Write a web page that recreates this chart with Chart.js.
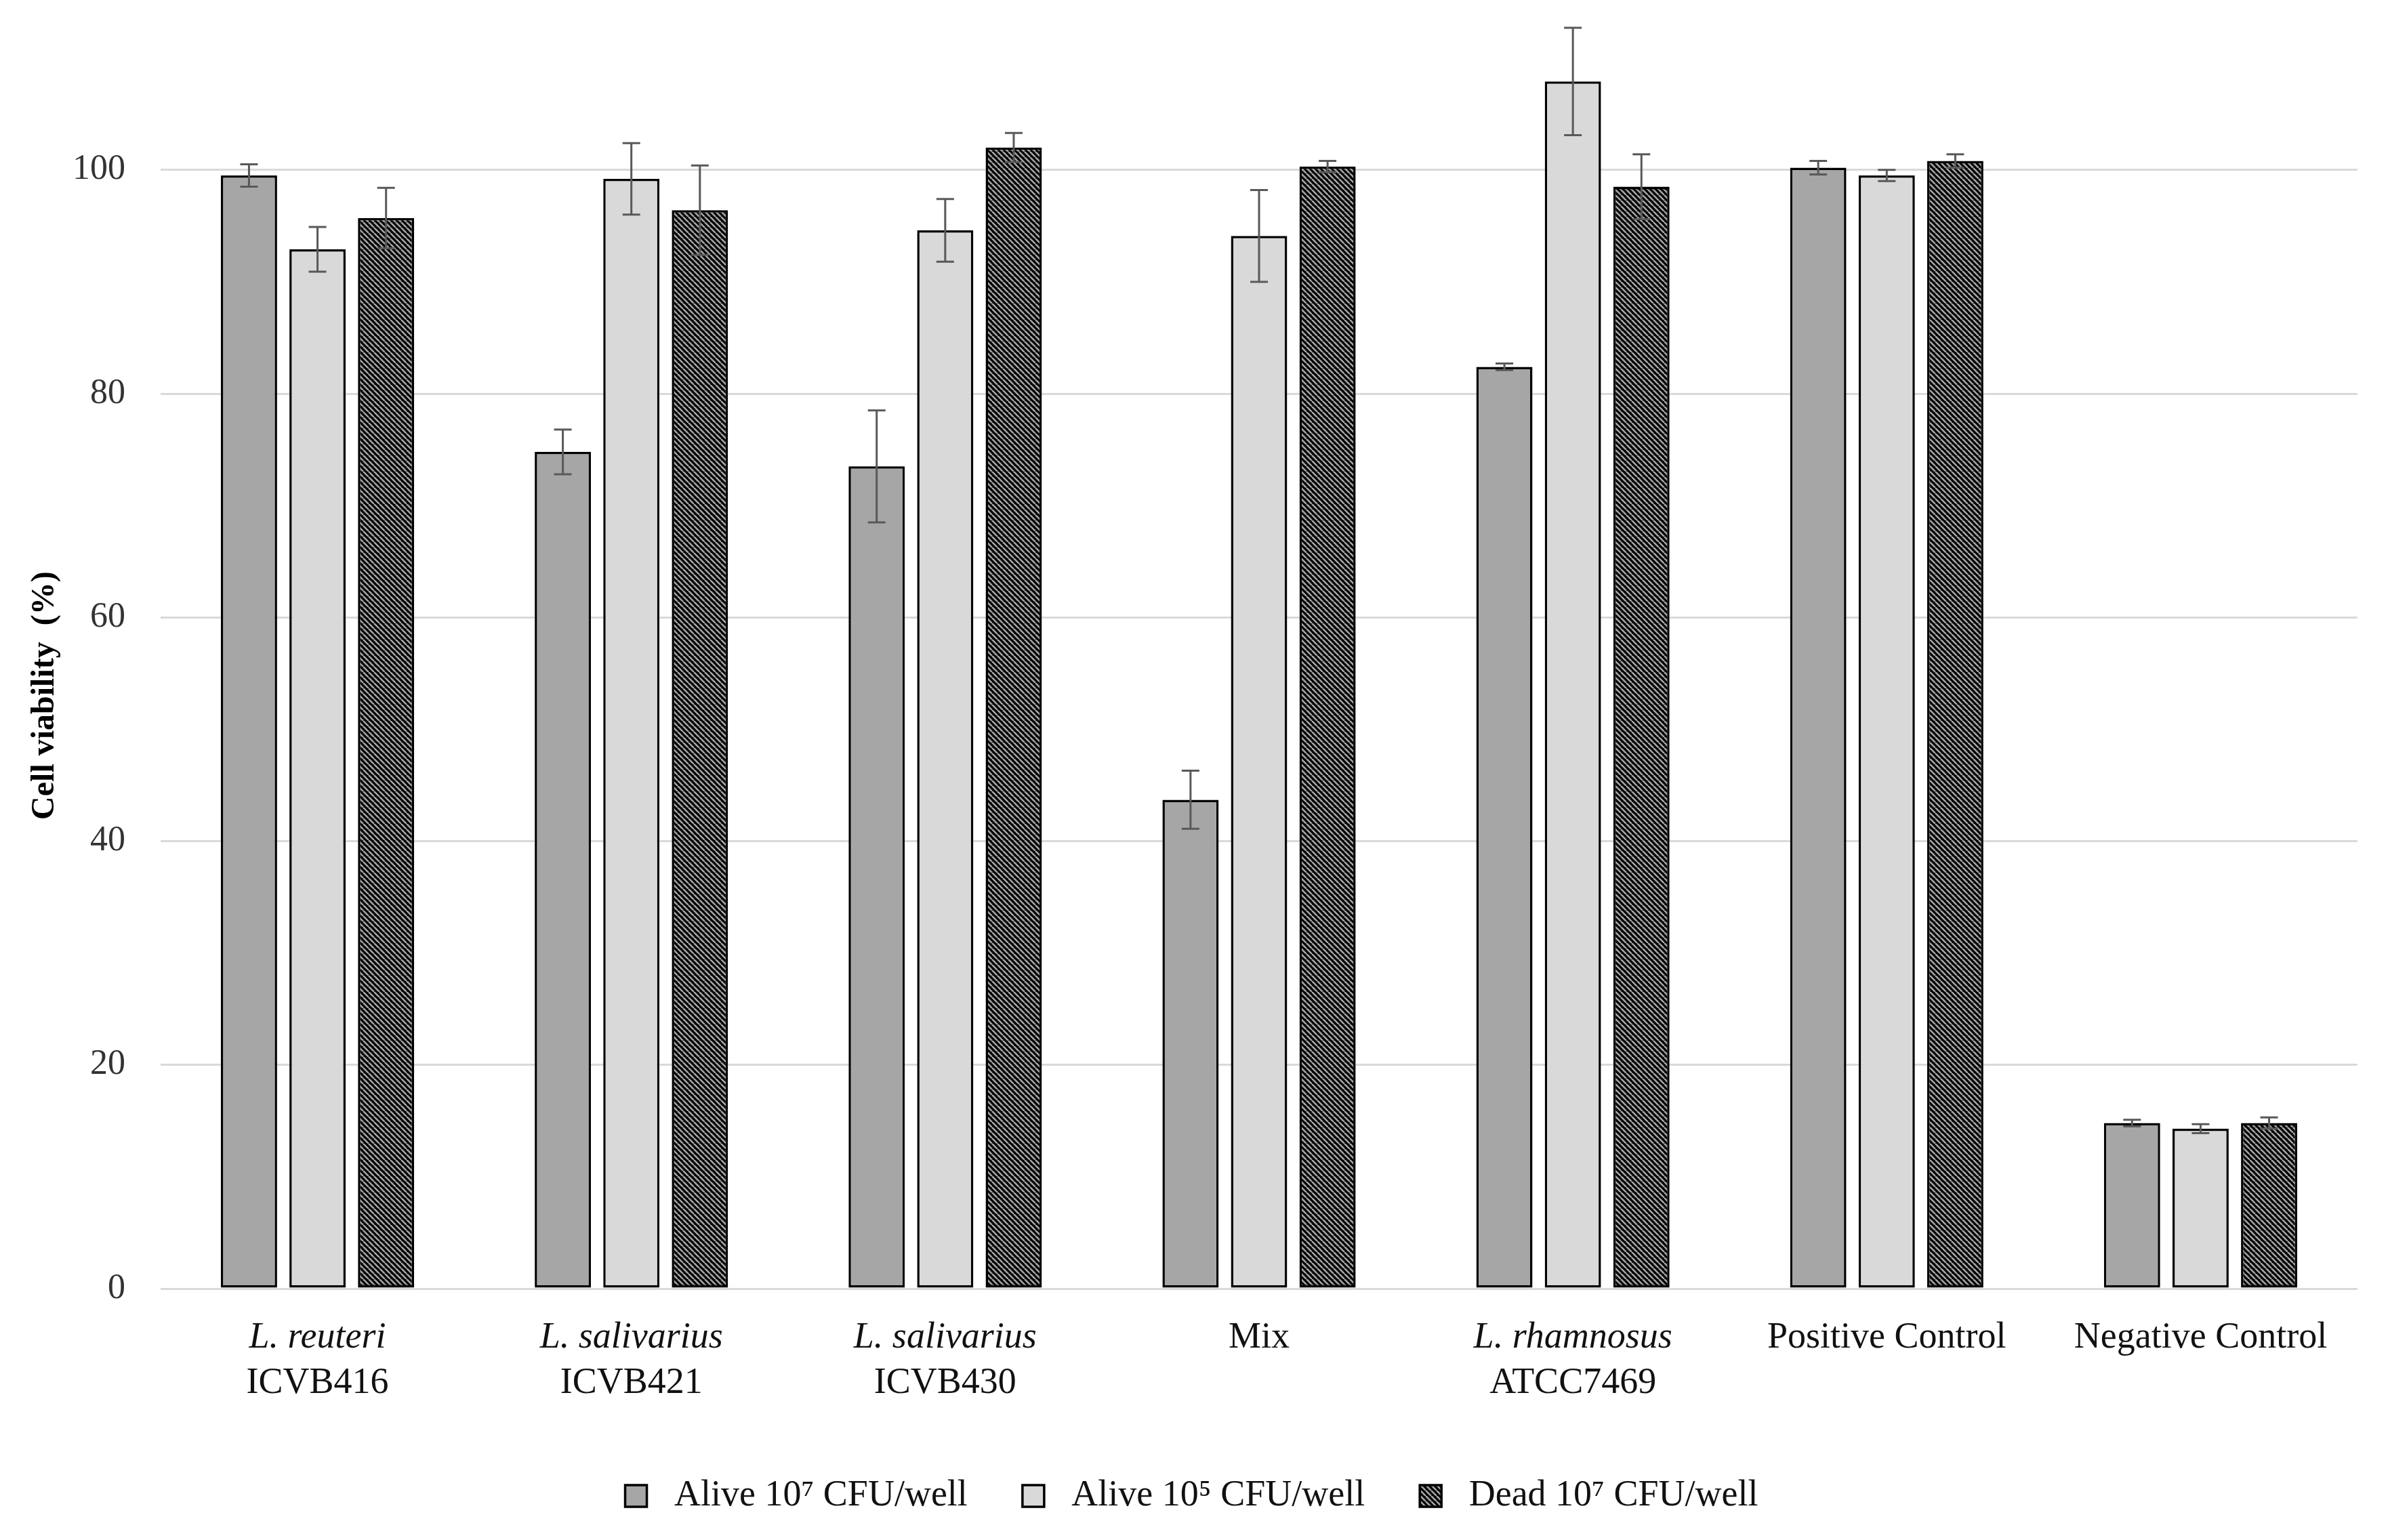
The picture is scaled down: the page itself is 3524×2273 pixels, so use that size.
<!DOCTYPE html>
<html>
<head>
<meta charset="utf-8">
<script src="https://cdn.jsdelivr.net/npm/chart.js@4.4.1/dist/chart.umd.min.js"></script>
<style>
html, body { margin: 0; padding: 0; background: #fff; }
#wrap { width: 3524px; height: 2273px; position: relative; }
</style>
</head>
<body>
<div id="wrap"><canvas id="viabilityChart"></canvas></div>
<script>
// categories (two label lines) and which ones are species names (italic)
const groupNames = ['L. reuteri', 'L. salivarius', 'L. salivarius', 'Mix', 'L. rhamnosus', 'Positive Control', 'Negative Control'];
const groupStrains = ['ICVB416', 'ICVB421', 'ICVB430', '', 'ATCC7469', '', ''];
const italicGroups = [0, 1, 2, 4];

const seriesNames = ['Alive 10\u2077 CFU/well', 'Alive 10\u2075 CFU/well', 'Dead 10\u2077 CFU/well'];

// cell viability (%) and error bars
const alive7 = [99.5, 74.8, 73.5, 43.7, 82.4, 100.2, 14.8];
const alive7Err = [1.0, 2.0, 5.0, 2.6, 0.3, 0.6, 0.3];
const alive5 = [92.9, 99.2, 94.6, 94.1, 107.9, 99.5, 14.3];
const alive5Err = [2.0, 3.2, 2.8, 4.1, 4.8, 0.5, 0.4];
const dead7 = [95.7, 96.4, 102.0, 100.3, 98.5, 100.8, 14.8];
const dead7Err = [2.7, 4.0, 1.3, 0.5, 2.9, 0.6, 0.5];

const yMin = 0;
const yMax = 113.3;
const yStep = 20;

const FONT = "'Liberation Serif', 'Times New Roman', serif";

// black bars with grey diagonal stripes for the dead cells
function makeHatch() {
    const size = 8;
    const c = document.createElement('canvas');
    c.width = size;
    c.height = size;
    const g = c.getContext('2d');
    g.fillStyle = '#000';
    g.fillRect(0, 0, size, size);
    g.strokeStyle = '#a6a6a6';
    g.lineWidth = 2.6;
    for (let k = -1; k <= 1; k++) {
        g.beginPath();
        g.moveTo(k * size, 0);
        g.lineTo(k * size + size, size);
        g.stroke();
    }
    return g.createPattern(c, 'repeat');
}

const errorBars = {
    id: 'errorBars',
    afterDatasetsDraw(chart) {
        const ctx = chart.ctx;
        const y = chart.scales.y;
        ctx.save();
        ctx.strokeStyle = '#595959';
        ctx.lineWidth = 3;
        chart.data.datasets.forEach((ds, i) => {
            const meta = chart.getDatasetMeta(i);
            meta.data.forEach((bar, j) => {
                const v = ds.data[j];
                const e = ds.errors[j];
                const top = y.getPixelForValue(v + e);
                const bot = y.getPixelForValue(v - e);
                ctx.beginPath();
                ctx.moveTo(bar.x, top);
                ctx.lineTo(bar.x, bot);
                ctx.moveTo(bar.x - 13, top);
                ctx.lineTo(bar.x + 13, top);
                ctx.moveTo(bar.x - 13, bot);
                ctx.lineTo(bar.x + 13, bot);
                ctx.stroke();
            });
        });
        ctx.restore();
    }
};

const hatch = makeHatch();
const barCommon = {
    borderColor: '#000',
    borderWidth: 3.5,
    borderSkipped: false,
    categoryPercentage: 0.655,
    barPercentage: 0.82
};

const ctx = document.getElementById('viabilityChart').getContext('2d');
const viabilityChart = new Chart(ctx, {
    type: 'bar',
    data: {
        labels: groupNames,
        datasets: [
            Object.assign({ label: seriesNames[0], data: alive7, errors: alive7Err, backgroundColor: '#a6a6a6' }, barCommon),
            Object.assign({ label: seriesNames[1], data: alive5, errors: alive5Err, backgroundColor: '#d9d9d9' }, barCommon),
            Object.assign({ label: seriesNames[2], data: dead7, errors: dead7Err, backgroundColor: hatch }, barCommon)
        ]
    },
    options: {
        responsive: true,
        maintainAspectRatio: false,
        devicePixelRatio: 1,
        animation: false,
        layout: {
            padding: { left: 38, right: 45, top: 0, bottom: 28 }
        },
        scales: {
            y: {
                min: yMin,
                max: yMax,
                afterFit: (s) => { s.width = 199; },
                grid: {
                    color: '#d9d9d9',
                    lineWidth: 3,
                    drawTicks: true,
                    tickLength: 52,
                    tickColor: 'rgba(0,0,0,0)'
                },
                border: { display: false },
                ticks: {
                    stepSize: yStep,
                    includeBounds: false,
                    padding: 0,
                    color: '#333',
                    font: { family: FONT, size: 52 }
                },
                title: {
                    display: true,
                    // trailing spaces nudge the rotated title a little lower, as in the original
                    text: 'Cell viability  (%)          ',
                    color: '#000',
                    padding: { top: 0, bottom: 0 },
                    font: { family: FONT, size: 48, weight: 'bold' }
                }
            },
            x: {
                afterFit: (s) => { s.height = 106; },
                grid: { display: false, drawTicks: false },
                border: { display: false },
                ticks: {
                    padding: 40,
                    color: '#111',
                    maxRotation: 0,
                    autoSkip: false,
                    font: (c) => ({
                        family: FONT,
                        size: 54,
                        style: italicGroups.includes(c.index) ? 'italic' : 'normal'
                    })
                }
            },
            x2: {
                type: 'category',
                position: 'bottom',
                weight: 1,
                offset: true,
                labels: groupStrains,
                afterFit: (s) => { s.height = 92; },
                grid: { display: false, drawTicks: false },
                border: { display: false },
                ticks: {
                    padding: 1,
                    color: '#111',
                    maxRotation: 0,
                    autoSkip: false,
                    font: { family: FONT, size: 54 }
                }
            }
        },
        plugins: {
            legend: {
                position: 'bottom',
                labels: {
                    boxWidth: 32,
                    boxHeight: 32,
                    padding: 81,
                    color: '#111',
                    font: { family: FONT, size: 54 },
                    generateLabels: function(chart) {
                        const items = Chart.defaults.plugins.legend.labels.generateLabels(chart);
                        items.forEach(it => { it.text = ' ' + it.text; });
                        return items;
                    }
                }
            },
            tooltip: { enabled: false }
        }
    },
    plugins: [errorBars]
});
</script>
</body>
</html>
